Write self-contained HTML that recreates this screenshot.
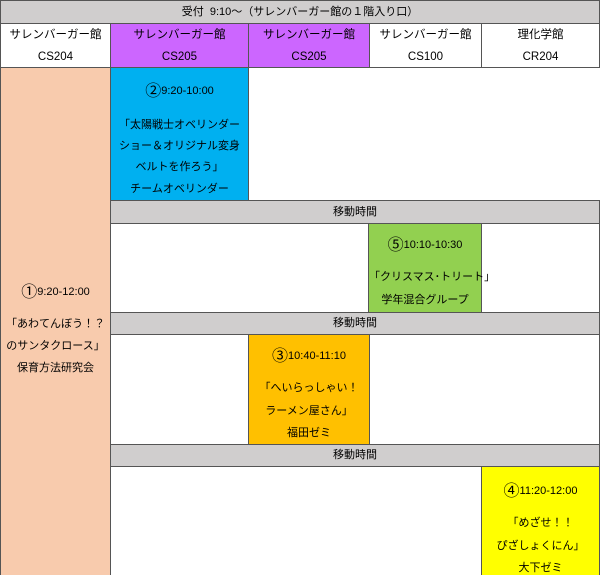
<!DOCTYPE html>
<html><head><meta charset="utf-8"><style>
html,body{margin:0;padding:0}
body{width:600px;height:575px;position:relative;overflow:hidden;background:#fff;font-family:"Liberation Sans","Noto Sans CJK JP",sans-serif;font-size:11px;color:#000}
.b{position:absolute;box-sizing:border-box;border:1px solid #555}
.t{position:absolute;left:0;right:0;text-align:center;white-space:nowrap;line-height:14px}
.h{font-size:11.5px}
.c{font-size:16px;vertical-align:-2px}
.gray{background:#d0cece}
</style></head><body>
<div class="b gray" style="left:0;top:0;width:600px;height:24px"><div class="t" style="top:4px">受付 &nbsp;9:10～（サレンバーガー館の１階入り口）</div></div>
<div class="b" style="left:0;top:23px;width:111px;height:45px"><div class="t h" style="top:4px">サレンバーガー館</div><div class="t h" style="top:26px">CS204</div></div>
<div class="b" style="left:110px;top:23px;width:139px;height:45px;background:#cc66ff"><div class="t h" style="top:4px">サレンバーガー館</div><div class="t h" style="top:26px">CS205</div></div>
<div class="b" style="left:248px;top:23px;width:122px;height:45px;background:#cc66ff"><div class="t h" style="top:4px">サレンバーガー館</div><div class="t h" style="top:26px">CS205</div></div>
<div class="b" style="left:369px;top:23px;width:113px;height:45px"><div class="t h" style="top:4px">サレンバーガー館</div><div class="t h" style="top:26px">CS100</div></div>
<div class="b" style="left:481px;top:23px;width:119px;height:45px"><div class="t h" style="top:4px">理化学館</div><div class="t h" style="top:26px">CR204</div></div>

<div class="b" style="left:0;top:67px;width:111px;height:508px;background:#f8cbad;border-bottom:none">
<div class="t" style="top:217px"><span class="c">①</span>9:20-12:00</div>
<div class="t" style="top:249px">「あわてんぼう！？</div>
<div class="t" style="top:271px">のサンタクロース」</div>
<div class="t" style="top:293px">保育方法研究会</div></div>

<div class="b" style="left:110px;top:67px;width:139px;height:134px;background:#00b0f0">
<div class="t" style="top:16px"><span class="c">②</span>9:20-10:00</div>
<div class="t" style="top:50px">「太陽戦士オベリンダー</div>
<div class="t" style="top:71px">ショー＆オリジナル変身</div>
<div class="t" style="top:92px">ベルトを作ろう」</div>
<div class="t" style="top:114px">チームオベリンダー</div></div>

<div class="b gray" style="left:110px;top:200px;width:490px;height:24px"><div class="t" style="top:4px">移動時間</div></div>
<div class="b" style="left:110px;top:223px;width:490px;height:90px"></div>
<div class="b" style="left:368px;top:223px;width:114px;height:90px;background:#92d050">
<div class="t" style="top:14px"><span class="c">⑤</span>10:10-10:30</div>
<div class="t" style="top:46px">「クリスマス･トリート」</div>
<div class="t" style="top:69px">学年混合グループ</div></div>

<div class="b gray" style="left:110px;top:312px;width:490px;height:23px"><div class="t" style="top:3px">移動時間</div></div>
<div class="b" style="left:110px;top:334px;width:490px;height:111px"></div>
<div class="b" style="left:248px;top:334px;width:122px;height:111px;background:#ffc000">
<div class="t" style="top:14px"><span class="c">③</span>10:40-11:10</div>
<div class="t" style="top:46px">「へいらっしゃい！</div>
<div class="t" style="top:69px">ラーメン屋さん」</div>
<div class="t" style="top:91px">福田ゼミ</div></div>

<div class="b gray" style="left:110px;top:444px;width:490px;height:23px"><div class="t" style="top:3px">移動時間</div></div>
<div class="b" style="left:110px;top:466px;width:490px;height:109px;border-bottom:none"></div>
<div class="b" style="left:481px;top:466px;width:119px;height:109px;background:#ffff00;border-bottom:none">
<div class="t" style="top:17px"><span class="c">④</span>11:20-12:00</div>
<div class="t" style="top:49px">「めざせ！！</div>
<div class="t" style="top:72px">ぴざしょくにん」</div>
<div class="t" style="top:94px">大下ゼミ</div></div>
</body></html>
